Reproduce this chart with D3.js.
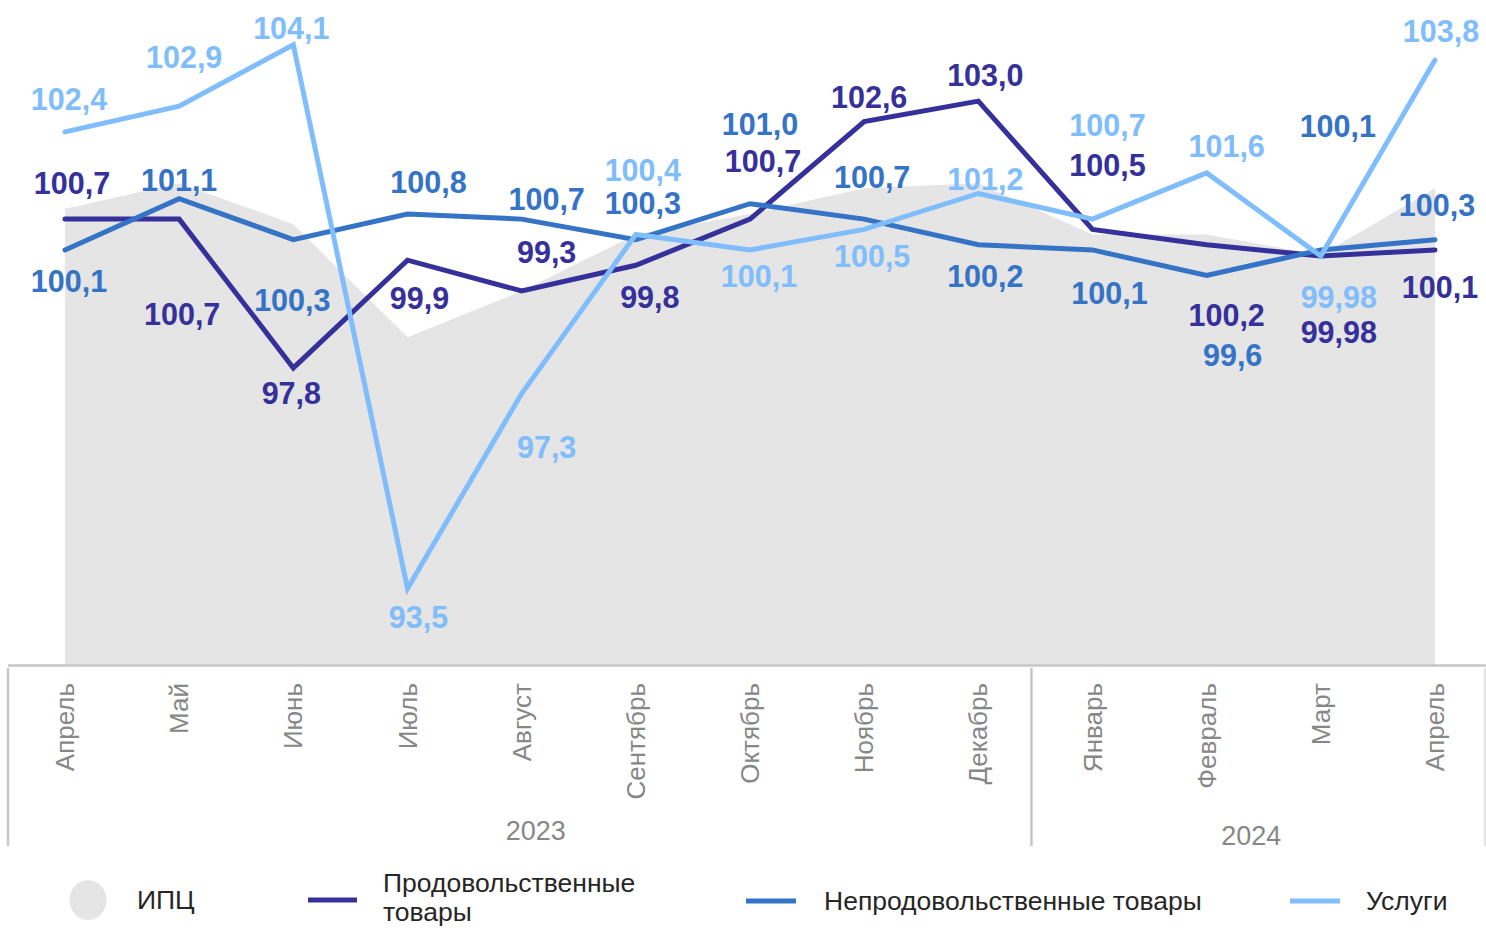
<!DOCTYPE html>
<html>
<head>
<meta charset="utf-8">
<script src="https://cdn.jsdelivr.net/npm/d3@7/dist/d3.min.js"></script>
<style>
  html, body { margin: 0; padding: 0; background: #fff; }
  svg { display: block; font-family: "Liberation Sans", Arial, sans-serif; }
</style>
</head>
<body>
<svg id="chart" width="1486" height="928"></svg>
<script>
// ---- data ----
const months = ["Апрель","Май","Июнь","Июль","Август","Сентябрь","Октябрь","Ноябрь","Декабрь","Январь","Февраль","Март","Апрель"];
const years = ["2023", "2024"];
const yearStartIndex = [0, 9];
const cpi      = [100.9, 101.4, 100.6, 98.4, 99.3, 100.4, 100.8, 101.3, 101.4, 100.4, 100.4, 100.0, 101.3];
const food     = [100.7, 100.7, 97.8, 99.9, 99.3, 99.8, 100.7, 102.6, 103.0, 100.5, 100.2, 99.98, 100.1];
const nonfood  = [100.1, 101.1, 100.3, 100.8, 100.7, 100.3, 101.0, 100.7, 100.2, 100.1, 99.6, 100.1, 100.3];
const services = [102.4, 102.9, 104.1, 93.5, 97.3, 100.4, 100.1, 100.5, 101.2, 100.7, 101.6, 99.98, 103.8];
const seriesNames = ["ИПЦ", "Продовольственные товары", "Непродовольственные товары", "Услуги"];

// ---- label placement (offsets of label centre from the point, px) ----
const foodLabelOffsets = [[7,-36],[3,95],[-2,25],[12,38],[25,-39],[14,32],[13,-58],[5,-25],[7,-26],[15,-64],[20,70],[18,76],[5,37]];
const nonfoodLabelOffsets = [[4,31],[0,-19],[-1,60],[21,-32],[25,-20],[7,-37],[10,-80],[8,-42],[7,31],[17,43],[26,79],[17,-124],[2,-35]];
const servicesLabelOffsets = [[4,-33],[5,-49],[-2,-17],[11,28],[25,53],[7,-64],[9,26],[8,27],[7,-14],[15,-94],[20,-27],[18,41],[6,-29]];

const colors = { cpi: "#e5e5e5", food: "#35309a", nonfood: "#3473c5", services: "#80bdfc" };

const svg = d3.select("#chart");
const idx = d3.range(months.length);
const x = d3.scalePoint().domain(idx).range([65, 1435]);
const y = d3.scaleLinear().domain([92, 105]).range([665.5, -1.5]);

const fmt = v => {
  const s = (Math.round(v * 100) / 100).toString();
  const t = s.includes(".") && s.split(".")[1].length === 2 ? s : v.toFixed(1);
  return t.replace(".", ",");
};

// CPI area
svg.append("path")
  .datum(cpi)
  .attr("fill", colors.cpi)
  .attr("d", d3.area().x((d, i) => x(i)).y0(y(92)).y1(d => y(d)));

// axis line
svg.append("line").attr("x1", 8).attr("x2", 1486).attr("y1", 665.5).attr("y2", 665.5)
  .attr("stroke", "#c6c6c6").attr("stroke-width", 2.5);

// lines
const line = d3.line().x((d, i) => x(i)).y(d => y(d));
[[food, colors.food], [nonfood, colors.nonfood], [services, colors.services]].forEach(([data, c]) => {
  svg.append("path").datum(data).attr("fill", "none").attr("stroke", c)
    .attr("stroke-width", 5).attr("stroke-linejoin", "miter").attr("stroke-linecap", "round")
    .attr("d", line);
});

// value labels
function labels(data, offs, c) {
  svg.append("g").selectAll("text").data(data).join("text")
    .attr("x", (d, i) => x(i) + offs[i][0])
    .attr("y", (d, i) => y(d) + offs[i][1])
    .attr("dy", "0.36em")
    .attr("text-anchor", "middle")
    .attr("font-size", 30.5).attr("font-weight", "bold")
    .attr("fill", c)
    .text(d => fmt(d));
}
labels(services, servicesLabelOffsets, colors.services);
labels(nonfood, nonfoodLabelOffsets, colors.nonfood);
labels(food, foodLabelOffsets, colors.food);

// month labels
svg.append("g").selectAll("text").data(months).join("text")
  .attr("transform", (d, i) => `translate(${x(i)},683) rotate(-90)`)
  .attr("text-anchor", "end")
  .attr("dy", "0.35em")
  .attr("font-size", 26)
  .attr("fill", "#878787")
  .text(d => d);

// separators
const step = x.step();
const sepX = [8, x(yearStartIndex[1]) - step / 2 - 4, 1485];
svg.append("g").selectAll("line").data(sepX).join("line")
  .attr("x1", d => d).attr("x2", d => d).attr("y1", 668).attr("y2", 846)
  .attr("stroke", (d, i) => i === 2 ? "#e4e4e4" : "#c6c6c6").attr("stroke-width", 2.5);

// year labels
const yearCenters = [(sepX[0] + sepX[1]) / 2 + 16, (sepX[1] + sepX[2]) / 2 - 7];
svg.append("g").selectAll("text").data(years).join("text")
  .attr("x", (d, i) => yearCenters[i])
  .attr("y", (d, i) => i === 0 ? 840 : 845)
  .attr("text-anchor", "middle")
  .attr("font-size", 27)
  .attr("fill", "#878787")
  .text(d => d);

// legend
const lg = svg.append("g");
const lfs = 26.5;
lg.append("ellipse").attr("cx", 88).attr("cy", 900).attr("rx", 18.5).attr("ry", 20).attr("fill", colors.cpi);
lg.append("text").attr("x", 137).attr("y", 900).attr("dy", "0.35em").attr("font-size", lfs).attr("fill", "#262626").text(seriesNames[0]);

lg.append("line").attr("x1", 308).attr("x2", 357).attr("y1", 900).attr("y2", 900).attr("stroke", colors.food).attr("stroke-width", 5);
const t2 = lg.append("text").attr("x", 383).attr("font-size", lfs).attr("fill", "#262626");
t2.append("tspan").attr("x", 383).attr("y", 883).attr("dy", "0.35em").text("Продовольственные");
t2.append("tspan").attr("x", 383).attr("y", 912).attr("dy", "0.35em").text("товары");

lg.append("line").attr("x1", 746).attr("x2", 796).attr("y1", 901).attr("y2", 901).attr("stroke", colors.nonfood).attr("stroke-width", 5);
lg.append("text").attr("x", 824).attr("y", 901).attr("dy", "0.35em").attr("font-size", lfs).attr("fill", "#262626").text(seriesNames[2]);

lg.append("line").attr("x1", 1290).attr("x2", 1340).attr("y1", 901).attr("y2", 901).attr("stroke", colors.services).attr("stroke-width", 5);
lg.append("text").attr("x", 1366).attr("y", 901).attr("dy", "0.35em").attr("font-size", lfs).attr("fill", "#262626").text(seriesNames[3]);
</script>
</body>
</html>
